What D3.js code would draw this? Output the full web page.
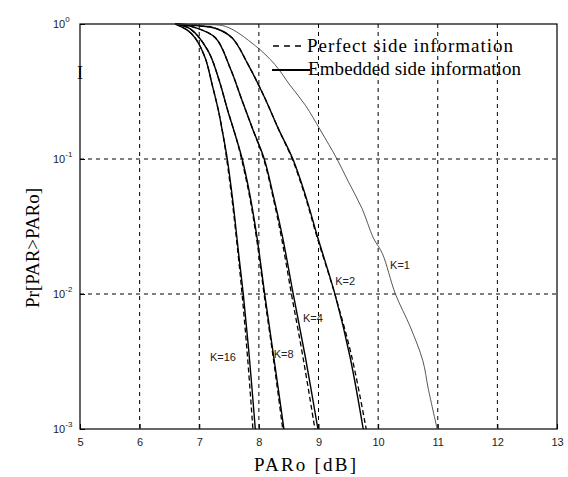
<!DOCTYPE html>
<html>
<head>
<meta charset="utf-8">
<script src="https://cdn.jsdelivr.net/npm/d3@7"></script>
<style>
  body { margin: 0; background: #fff; }
  svg { display: block; }
  .tick-label { font-family: "Liberation Sans", Arial, sans-serif; font-size: 11px; fill: #222; }
  .serif { font-family: "Liberation Serif", "Times New Roman", serif; fill: #000; }
  .k-label { font-family: "Liberation Sans", Arial, sans-serif; font-size: 11px; fill: #222; }
</style>
</head>
<body>
<svg id="chart" width="568" height="477"></svg>
<script>
// data: [PARo (dB), Pr[PAR>PARo]]
var embeddedK1 = [[6.6, 1], [7.0, 0.985], [7.44, 0.96], [7.94, 0.69], [8.27, 0.5], [8.52, 0.353], [8.78, 0.25], [9.03, 0.164], [9.31, 0.1], [9.5, 0.068], [9.73, 0.043], [9.92, 0.026], [10.07, 0.02], [10.29, 0.01], [10.54, 0.0057], [10.75, 0.0032], [10.84, 0.002], [10.99, 0.001]];
var embeddedK2 = [[6.6, 1], [7.0, 0.97], [7.27, 0.93], [7.55, 0.79], [7.82, 0.5], [8.1, 0.283], [8.32, 0.17], [8.57, 0.1], [8.78, 0.054], [8.99, 0.026], [9.28, 0.0098], [9.53, 0.0034], [9.75, 0.001]];
var embeddedK4 = [[6.6, 1], [6.9, 0.95], [7.27, 0.79], [7.52, 0.47], [7.72, 0.27], [7.9, 0.165], [8.09, 0.1], [8.24, 0.054], [8.4, 0.026], [8.58, 0.0098], [8.78, 0.0034], [8.99, 0.001]];
var embeddedK8 = [[6.6, 1], [6.85, 0.92], [7.15, 0.63], [7.32, 0.4], [7.48, 0.227], [7.62, 0.143], [7.72, 0.1], [7.85, 0.054], [7.97, 0.026], [8.1, 0.0098], [8.25, 0.0034], [8.42, 0.001]];
var embeddedK16 = [[6.6, 1], [6.8, 0.9], [6.93, 0.79], [7.1, 0.56], [7.22, 0.35], [7.32, 0.23], [7.4, 0.15], [7.47, 0.1], [7.57, 0.046], [7.66, 0.02], [7.74, 0.0098], [7.84, 0.0034], [7.94, 0.001]];

var perfectK2 = [[6.6, 1], [7.0, 0.97], [7.27, 0.93], [7.55, 0.79], [7.82, 0.5], [8.1, 0.283], [8.32, 0.17], [8.56, 0.1], [8.77, 0.054], [8.98, 0.026], [9.28, 0.0098], [9.56, 0.0034], [9.8, 0.001]];
var perfectK4 = [[6.6, 1], [6.9, 0.95], [7.27, 0.79], [7.52, 0.47], [7.72, 0.27], [7.9, 0.165], [8.08, 0.1], [8.23, 0.054], [8.38, 0.026], [8.55, 0.0098], [8.74, 0.0034], [8.94, 0.001]];
var perfectK8 = [[6.6, 1], [6.85, 0.92], [7.15, 0.63], [7.32, 0.4], [7.48, 0.227], [7.62, 0.143], [7.71, 0.1], [7.84, 0.054], [7.96, 0.026], [8.09, 0.0098], [8.24, 0.0034], [8.4, 0.001]];
var perfectK16 = [[6.6, 1], [6.8, 0.9], [6.93, 0.79], [7.1, 0.56], [7.22, 0.35], [7.32, 0.23], [7.4, 0.15], [7.46, 0.1], [7.56, 0.046], [7.65, 0.02], [7.72, 0.0098], [7.81, 0.0034], [7.9, 0.001]];

var xTicks = [5, 6, 7, 8, 9, 10, 11, 12, 13];
var yTicks = [1, 0.1, 0.01, 0.001];
var yExponents = ['0', '-1', '-2', '-3'];

var curveLabels = [
  { text: 'K=1', x: 10.2, y: 0.0165 },
  { text: 'K=2', x: 9.28, y: 0.0125 },
  { text: 'K=4', x: 8.74, y: 0.0066 },
  { text: 'K=8', x: 8.25, y: 0.0036 },
  { text: 'K=16', x: 7.18, y: 0.0034 }
];

var plotLeft = 80, plotRight = 557, plotTop = 24, plotBottom = 429;

var svg = d3.select('#chart');

var xScale = d3.scaleLinear()
  .domain([5, 13])
  .range([plotLeft, plotRight]);

var yScale = d3.scaleLog()
  .domain([0.001, 1])
  .range([plotBottom, plotTop]);

// grid
var grid = svg.append('g').attr('class', 'grid');

grid.selectAll('.vgrid')
  .data(xTicks.slice(1, -1))
  .enter().append('line')
  .attr('x1', function(d) { return xScale(d); })
  .attr('x2', function(d) { return xScale(d); })
  .attr('y1', plotTop)
  .attr('y2', plotBottom)
  .attr('stroke', '#000')
  .attr('stroke-width', 1)
  .attr('stroke-dasharray', '4,4');

grid.selectAll('.hgrid')
  .data(yTicks.slice(1, -1))
  .enter().append('line')
  .attr('x1', plotLeft)
  .attr('x2', plotRight)
  .attr('y1', function(d) { return yScale(d); })
  .attr('y2', function(d) { return yScale(d); })
  .attr('stroke', '#000')
  .attr('stroke-width', 1)
  .attr('stroke-dasharray', '4,4');

// axes (ticks inward)
svg.append('g')
  .attr('transform', 'translate(0,' + plotBottom + ')')
  .call(d3.axisBottom(xScale).tickValues(xTicks).tickSizeInner(-5).tickSizeOuter(0).tickPadding(9))
  .call(function(g) {
    g.select('.domain').remove();
    g.selectAll('text').attr('class', 'tick-label').attr('fill', null);
    g.selectAll('line').attr('stroke', '#000');
  });

svg.append('g')
  .attr('transform', 'translate(' + plotLeft + ',0)')
  .call(d3.axisLeft(yScale).tickValues(yTicks).tickSizeInner(-5).tickSizeOuter(0).tickFormat(''))
  .call(function(g) {
    g.select('.domain').remove();
    g.selectAll('line').attr('stroke', '#000');
  });

// y tick labels with superscripts
var yLab = svg.selectAll('.ylab')
  .data(yTicks)
  .enter().append('text')
  .attr('class', 'tick-label')
  .attr('x', plotLeft - 27)
  .attr('y', function(d) { return yScale(d) + 4; });

yLab.append('tspan').text('10');
yLab.append('tspan')
  .attr('dy', -6)
  .attr('font-size', 8)
  .text(function(d, i) { return yExponents[i]; });

// box
svg.append('rect')
  .attr('x', plotLeft)
  .attr('y', plotTop)
  .attr('width', plotRight - plotLeft)
  .attr('height', plotBottom - plotTop)
  .attr('fill', 'none')
  .attr('stroke', '#000')
  .attr('stroke-width', 1.2);

// curves
var line = d3.line()
  .x(function(d) { return xScale(d[0]); })
  .y(function(d) { return yScale(d[1]); })
  .curve(d3.curveCatmullRom.alpha(0.5));

var perfect = [perfectK2, perfectK4, perfectK8, perfectK16];
var embedded = [embeddedK2, embeddedK4, embeddedK8, embeddedK16];

svg.selectAll('.perfect')
  .data(perfect)
  .enter().append('path')
  .attr('class', 'perfect')
  .attr('d', line)
  .attr('fill', 'none')
  .attr('stroke', '#000')
  .attr('stroke-width', 1.3)
  .attr('stroke-dasharray', '5,3');

svg.selectAll('.embedded')
  .data(embedded)
  .enter().append('path')
  .attr('class', 'embedded')
  .attr('d', line)
  .attr('fill', 'none')
  .attr('stroke', '#000')
  .attr('stroke-width', 1.4);

svg.append('path')
  .datum(embeddedK1)
  .attr('d', line)
  .attr('fill', 'none')
  .attr('stroke', '#444')
  .attr('stroke-width', 0.9);

// curve labels
svg.selectAll('.k-label')
  .data(curveLabels)
  .enter().append('text')
  .attr('class', 'k-label')
  .attr('x', function(d) { return xScale(d.x); })
  .attr('y', function(d) { return yScale(d.y) + 4; })
  .text(function(d) { return d.text; });

// legend
svg.append('line')
  .attr('x1', 273).attr('x2', 306)
  .attr('y1', 46).attr('y2', 46)
  .attr('stroke', '#000')
  .attr('stroke-width', 1.6)
  .attr('stroke-dasharray', '6,5');

svg.append('text')
  .attr('class', 'serif')
  .attr('x', 307).attr('y', 52)
  .attr('font-size', 19)
  .attr('textLength', 206)
  .attr('lengthAdjust', 'spacing')
  .text('Perfect side information');

svg.append('line')
  .attr('x1', 272).attr('x2', 310)
  .attr('y1', 70).attr('y2', 70)
  .attr('stroke', '#000')
  .attr('stroke-width', 1.8);

svg.append('text')
  .attr('class', 'serif')
  .attr('x', 308).attr('y', 75)
  .attr('font-size', 19)
  .attr('textLength', 213)
  .attr('lengthAdjust', 'spacing')
  .text('Embedded side information');

// stray mark near left axis
svg.append('text')
  .attr('class', 'serif')
  .attr('x', 77).attr('y', 79)
  .attr('font-size', 18)
  .text('I');

// axis titles
svg.append('text')
  .attr('class', 'serif')
  .attr('x', 305).attr('y', 471)
  .attr('text-anchor', 'middle')
  .attr('font-size', 19)
  .attr('textLength', 102)
  .attr('lengthAdjust', 'spacing')
  .text('PARo [dB]');

svg.append('text')
  .attr('class', 'serif')
  .attr('transform', 'translate(39,248) rotate(-90)')
  .attr('text-anchor', 'middle')
  .attr('font-size', 19)
  .text('Pr[PAR>PARo]');
</script>
</body>
</html>
